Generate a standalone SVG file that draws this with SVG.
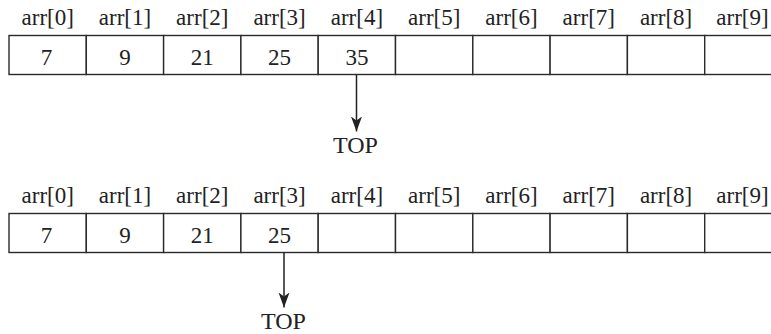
<svg xmlns="http://www.w3.org/2000/svg" width="771" height="334" viewBox="0 0 771 334">
<defs>
<style>
.cell{fill:#fff;stroke:#2a2a2a;stroke-width:1.4}
.lbl{font-family:"Liberation Serif","Times New Roman",serif;font-size:23px;fill:#222;text-anchor:middle}
.val{font-family:"Liberation Serif","Times New Roman",serif;font-size:23px;fill:#222;text-anchor:middle}
.top{font-family:"Liberation Serif","Times New Roman",serif;font-size:24px;fill:#222;text-anchor:middle}
.conn{stroke:#222;stroke-width:1.5;fill:none}
</style>
<marker id="arrow" markerUnits="userSpaceOnUse" markerWidth="16" markerHeight="12" refX="15" refY="6" orient="auto">
<path d="M0,0.5 L15,6 L0,11.5 L4,6 z" fill="#222"/>
</marker>
</defs>
<rect width="771" height="334" fill="#fff"/>

<g id="array1">
<g id="a1c0"><rect class="cell" x="9" y="35.5" width="77.3" height="39"/><text class="lbl" x="47.7" y="25">arr[0]</text><text class="val" x="46.5" y="64.5">7</text></g>
<g id="a1c1"><rect class="cell" x="86.3" y="35.5" width="77.3" height="39"/><text class="lbl" x="125" y="25">arr[1]</text><text class="val" x="125" y="64.5">9</text></g>
<g id="a1c2"><rect class="cell" x="163.6" y="35.5" width="77.3" height="39"/><text class="lbl" x="202.3" y="25">arr[2]</text><text class="val" x="202.3" y="64.5">21</text></g>
<g id="a1c3"><rect class="cell" x="240.9" y="35.5" width="77.3" height="39"/><text class="lbl" x="279.6" y="25">arr[3]</text><text class="val" x="279.6" y="64.5">25</text></g>
<g id="a1c4"><rect class="cell" x="318.2" y="35.5" width="77.3" height="39"/><text class="lbl" x="356.9" y="25">arr[4]</text><text class="val" x="356.9" y="64.5">35</text></g>
<g id="a1c5"><rect class="cell" x="395.5" y="35.5" width="77.3" height="39"/><text class="lbl" x="434.2" y="25">arr[5]</text></g>
<g id="a1c6"><rect class="cell" x="472.8" y="35.5" width="77.3" height="39"/><text class="lbl" x="511.5" y="25">arr[6]</text></g>
<g id="a1c7"><rect class="cell" x="550.1" y="35.5" width="77.3" height="39"/><text class="lbl" x="588.8" y="25">arr[7]</text></g>
<g id="a1c8"><rect class="cell" x="627.4" y="35.5" width="77.3" height="39"/><text class="lbl" x="666.1" y="25">arr[8]</text></g>
<g id="a1c9"><rect class="cell" x="704.7" y="35.5" width="77.3" height="39"/><text class="lbl" x="742.5" y="25">arr[9]</text></g>
</g>

<g id="array2">
<g id="a2c0"><rect class="cell" x="9" y="213.5" width="77.3" height="39"/><text class="lbl" x="47.7" y="203">arr[0]</text><text class="val" x="46.5" y="242.5">7</text></g>
<g id="a2c1"><rect class="cell" x="86.3" y="213.5" width="77.3" height="39"/><text class="lbl" x="125" y="203">arr[1]</text><text class="val" x="125" y="242.5">9</text></g>
<g id="a2c2"><rect class="cell" x="163.6" y="213.5" width="77.3" height="39"/><text class="lbl" x="202.3" y="203">arr[2]</text><text class="val" x="202.3" y="242.5">21</text></g>
<g id="a2c3"><rect class="cell" x="240.9" y="213.5" width="77.3" height="39"/><text class="lbl" x="279.6" y="203">arr[3]</text><text class="val" x="279.6" y="242.5">25</text></g>
<g id="a2c4"><rect class="cell" x="318.2" y="213.5" width="77.3" height="39"/><text class="lbl" x="356.9" y="203">arr[4]</text></g>
<g id="a2c5"><rect class="cell" x="395.5" y="213.5" width="77.3" height="39"/><text class="lbl" x="434.2" y="203">arr[5]</text></g>
<g id="a2c6"><rect class="cell" x="472.8" y="213.5" width="77.3" height="39"/><text class="lbl" x="511.5" y="203">arr[6]</text></g>
<g id="a2c7"><rect class="cell" x="550.1" y="213.5" width="77.3" height="39"/><text class="lbl" x="588.8" y="203">arr[7]</text></g>
<g id="a2c8"><rect class="cell" x="627.4" y="213.5" width="77.3" height="39"/><text class="lbl" x="666.1" y="203">arr[8]</text></g>
<g id="a2c9"><rect class="cell" x="704.7" y="213.5" width="77.3" height="39"/><text class="lbl" x="742.5" y="203">arr[9]</text></g>
</g>

<g id="top1"><text class="top" x="355.5" y="153">TOP</text></g>
<g id="top2"><text class="top" x="283.5" y="328.5">TOP</text></g>

<g id="connectors">
<line class="conn" x1="356.5" y1="74.5" x2="356.5" y2="131.5" marker-end="url(#arrow)"/>
<line class="conn" x1="284" y1="252.5" x2="284" y2="307.5" marker-end="url(#arrow)"/>
</g>
</svg>
